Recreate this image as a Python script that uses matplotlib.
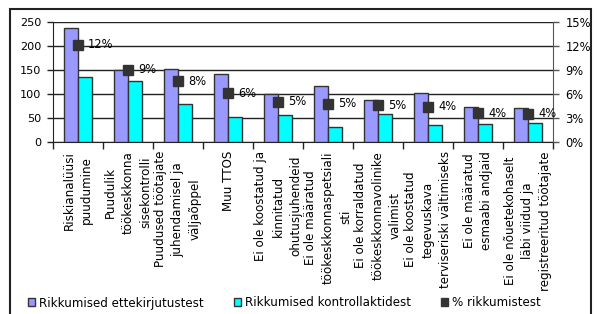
import matplotlib
matplotlib.use("Agg")
import matplotlib.pyplot as plt
import numpy as np
from matplotlib.patches import Rectangle

categories = [
    "Riskianalüüsi\npuudumine",
    "Puudulik\ntöökeskkonna\nsisekontrolli",
    "Puudused töötajate\njuhendamisel ja\nväljaõppel",
    "Muu TTOS",
    "Ei ole koostatud ja\nkinnitatud\nohutusjuhendeid",
    "Ei ole määratud\ntöökeskkonnaspetsiali\nsti",
    "Ei ole korraldatud\ntöökeskkonnavolinike\nvalimist",
    "Ei ole koostatud\ntegevuskava\nterviseriski vältimiseks",
    "Ei ole määratud\nesmaabi andjaid",
    "Ei ole nõuetekohaselt\nläbi viidud ja\nregistreeritud töötajate",
]
ettekirjutused = [237, 150, 152, 142, 99, 117, 88, 103, 74, 70]
kontrollaktid = [135, 127, 79, 52, 57, 31, 59, 35, 37, 39]
protsent = [12.1, 9.0, 7.6, 6.1, 5.05, 4.76, 4.6, 4.4, 3.6, 3.56]
series_names = ["Rikkumised ettekirjutustest", "Rikkumised kontrollaktidest", "% rikkumistest"]
y_ticks = [0, 50, 100, 150, 200, 250]
y2_ticks = [0, 3, 6, 9, 12, 15]

FS = 8.6
TFS = 8.1
plt.rcParams['font.family'] = ['DejaVu Sans']
plt.rcParams['font.size'] = FS

W, H = 598, 314
fig = plt.figure(figsize=(W / 100, H / 100), dpi=100)
ax = fig.add_axes([53 / W, 1 - 142.3 / H, 500 / W, 120.8 / H])

n = len(categories)
x = np.arange(n)
bw = 0.28
edge = "#333333"
ax.bar(x - bw / 2, ettekirjutused, bw, color="#9999FF", edgecolor=edge, linewidth=1, zorder=3)
ax.bar(x + bw / 2, kontrollaktid, bw, color="#00FFFF", edgecolor=edge, linewidth=1, zorder=3)

ax.set_xlim(-0.5, n - 0.5)
ax.set_ylim(0, 250)
ax.set_yticks(y_ticks)
ax.yaxis.grid(True, color="#222222", linewidth=1, zorder=0)
ax.set_axisbelow(True)
for s in ["top", "right"]:
    ax.spines[s].set_visible(False)
ax.spines["left"].set_color("#222222")
ax.spines["bottom"].set_color("#222222")
ax.tick_params(axis="y", length=4, width=1, pad=4.5, colors="#222222", labelcolor="black",
               labelsize=TFS)

# x ticks at category boundaries, labels at centers
ax.set_xticks(np.arange(n + 1) - 0.5)
ax.set_xticklabels([])
ax.tick_params(axis="x", which="major", length=5, width=1, direction="out", colors="#222222")
ax.set_xticks(x, minor=True)
ax.set_xticklabels(categories, minor=True, rotation=90, ha="center", va="top",
                   multialignment="center", linespacing=1.45)
ax.tick_params(axis="x", which="minor", length=0, pad=6.3)

ax2 = ax.twinx()
ax2.set_ylim(0, 15)
ax2.set_yticks(y2_ticks)
ax2.set_yticklabels([f"{v}%" for v in y2_ticks])
for s in ["top", "left", "bottom"]:
    ax2.spines[s].set_visible(False)
ax2.spines["right"].set_color("#555555")
ax2.tick_params(axis="y", length=4, width=1, pad=5, colors="#555555", labelcolor="black",
                labelsize=TFS + 0.2)
ax2.plot(x, protsent, linestyle="none", marker="s", markersize=6.5,
         color="#333333", zorder=5)
for xi, v in zip(x, protsent):
    ax2.annotate(f"{v:.0f}%", (xi, v), xytext=(7.3, 0), textcoords="offset points",
                 ha="left", va="center", fontsize=8.3)

# outer chart frame
fig.patches.append(Rectangle((10 / W, -0.05), 581 / W, 1.05 - 9.5 / H, transform=fig.transFigure,
                             fill=False, edgecolor="#222222", linewidth=1.5))

handles = [
    Rectangle((0, 0), 1, 1, facecolor="#9999FF", edgecolor=edge, linewidth=1),
    Rectangle((0, 0), 1, 1, facecolor="#00FFFF", edgecolor=edge, linewidth=1),
    Rectangle((0, 0), 1, 1, facecolor="#333333", edgecolor="#333333", linewidth=1),
]
fig.legend(handles, series_names, loc="center left", bbox_to_anchor=(28 / W, 1 - 303 / H),
           ncol=3, frameon=False, handlelength=0.6, handleheight=0.6, handletextpad=0.35,
           columnspacing=2.5, fontsize=FS, borderpad=0, borderaxespad=0)

fig.savefig("out.png", dpi=100)
